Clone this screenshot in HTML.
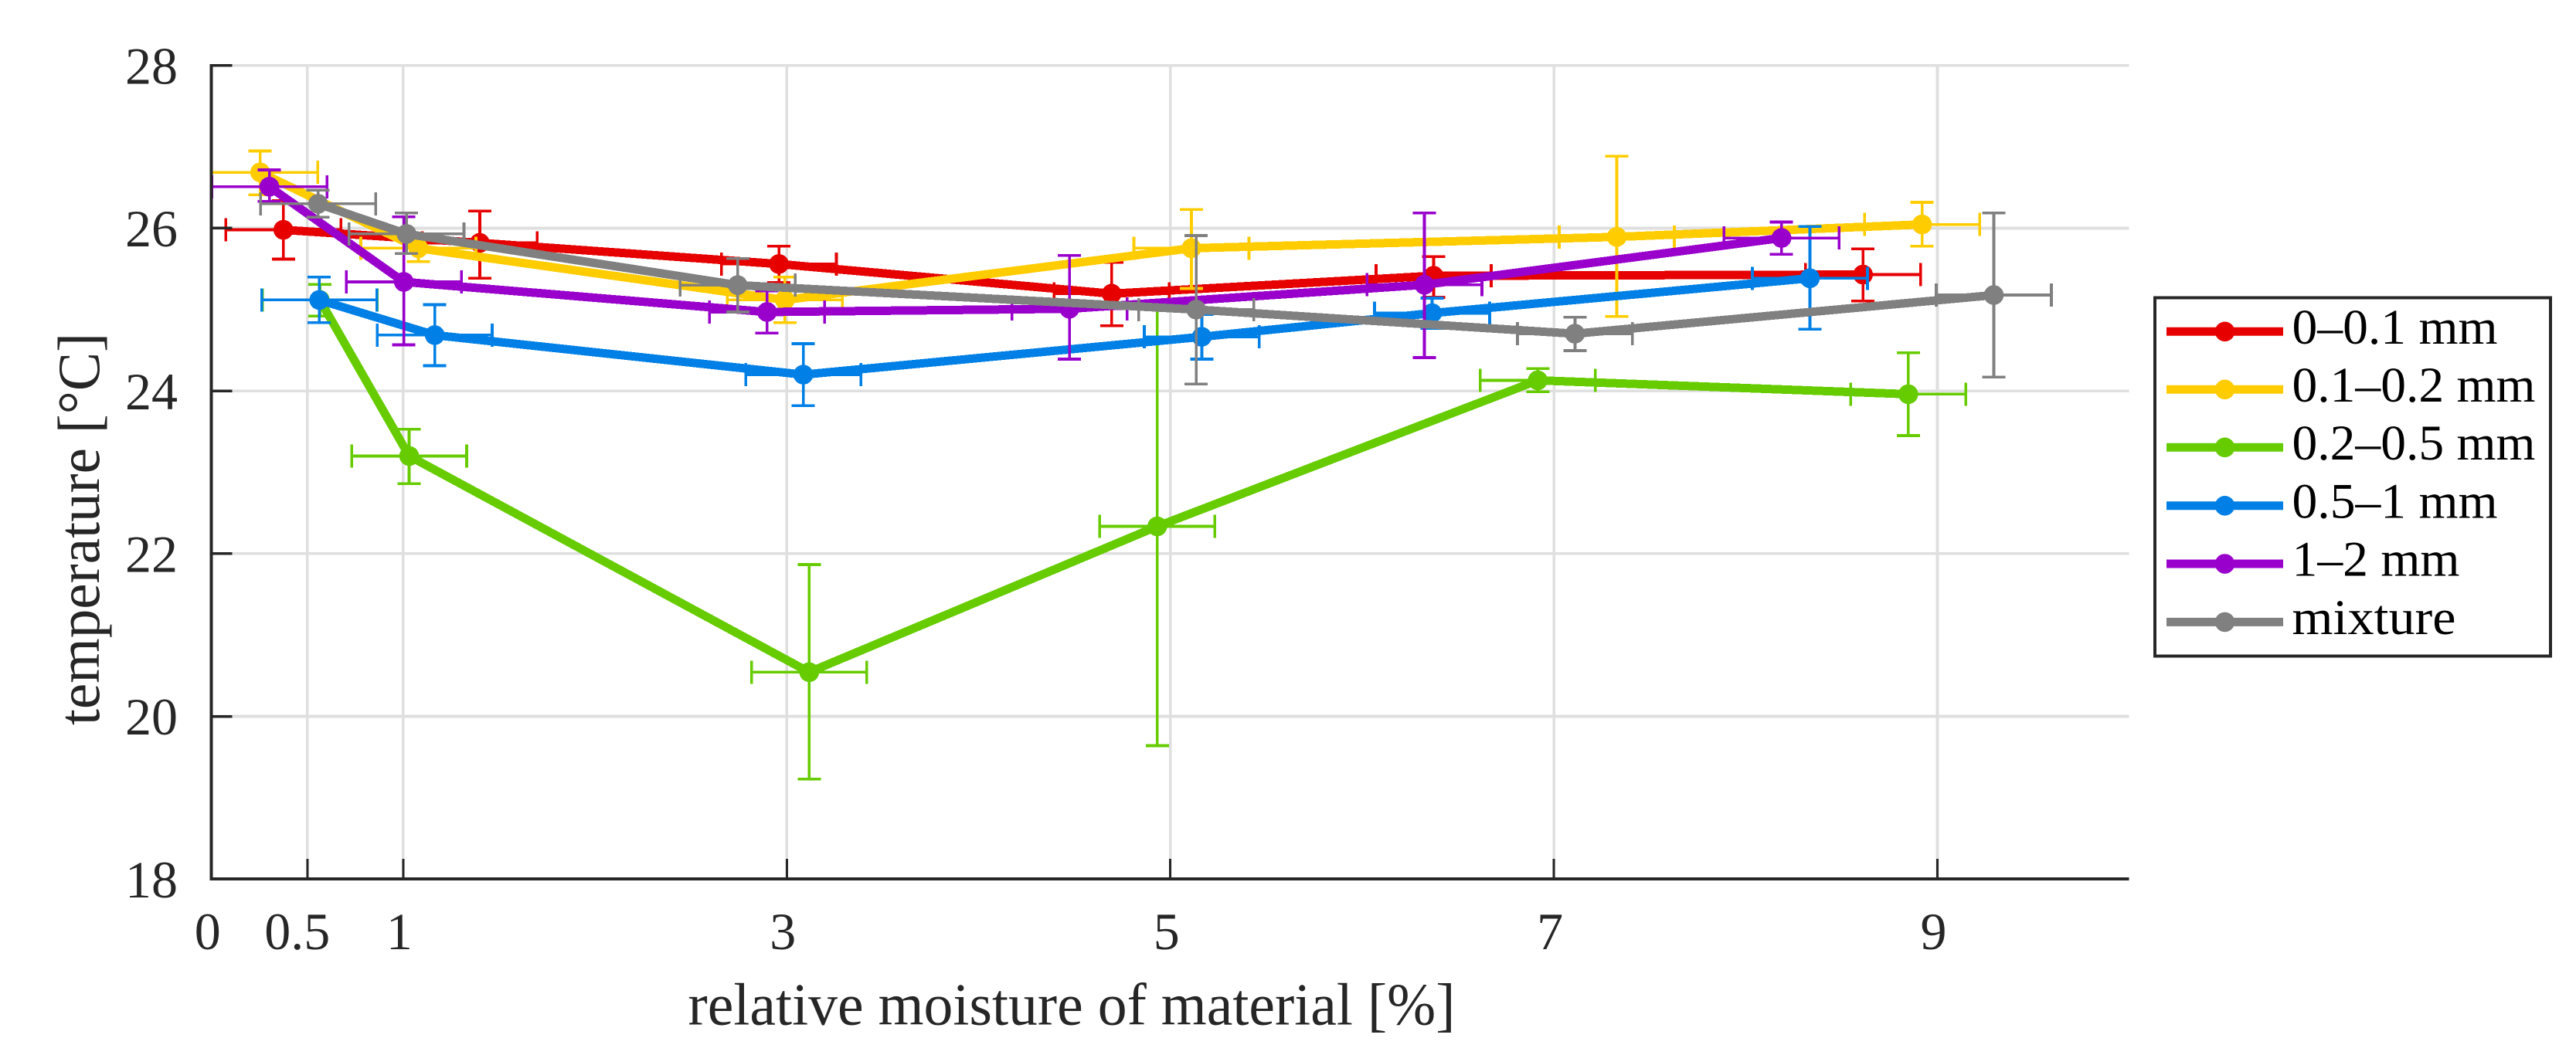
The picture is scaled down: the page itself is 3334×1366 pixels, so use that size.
<!DOCTYPE html>
<html lang="en">
<head>
<meta charset="utf-8">
<title>Temperature vs relative moisture of material</title>
<style>
  html, body { margin: 0; padding: 0; background: #ffffff; }
  svg { display: block; }
  text { font-family: "Liberation Serif", "DejaVu Serif", serif; }
</style>
</head>
<body>
<svg id="chart" xmlns="http://www.w3.org/2000/svg" width="3334" height="1366" viewBox="0 0 3334 1366">
  <rect x="0" y="0" width="3334" height="1366" fill="#ffffff"/>
  <defs>
    <clipPath id="plot-clip"><rect x="272" y="83" width="2485" height="1057"/></clipPath>
  </defs>
  <g id="grid" shape-rendering="crispEdges"></g>
  <g id="series" clip-path="url(#plot-clip)" shape-rendering="crispEdges"></g>
  <g id="axes" shape-rendering="crispEdges"></g>
  <text x="1387" y="1326.5" font-size="77" fill="#262626" text-anchor="middle" textLength="993" lengthAdjust="spacingAndGlyphs">relative moisture of material [%]</text>
  <text transform="translate(128 685) rotate(-90)" font-size="77" fill="#262626" text-anchor="middle" textLength="508" lengthAdjust="spacingAndGlyphs">temperature [°C]</text>
  <g id="legend"></g>
</svg>
<script>
// ---- axis ticks ----
const xTicks = [0, 0.5, 1, 3, 5, 7, 9];
const xTickLabels = ['0', '0.5', '1', '3', '5', '7', '9'];
const yTicks = [18, 20, 22, 24, 26, 28];
const yTickLabels = ['18', '20', '22', '24', '26', '28'];

// ---- series names ----
const seriesNames = ['0–0.1 mm', '0.1–0.2 mm', '0.2–0.5 mm', '0.5–1 mm', '1–2 mm', 'mixture'];

// ---- 0–0.1 mm ----
const moistureA = [0.375, 1.399, 2.959, 4.694, 6.373, 8.612];
const tempA     = [25.98, 25.82, 25.56, 25.195, 25.415, 25.43];
const tempHighA = [26.34, 26.21, 25.78, 25.58, 25.65, 25.745];
const tempLowA  = [25.62, 25.385, 25.33, 24.80, 25.15, 25.105];
const moistErrA = [0.30, 0.30, 0.30, 0.30, 0.30, 0.30];

// ---- 0.1–0.2 mm ----
const moistureB = [0.254, 1.079, 2.99, 5.11, 7.328, 8.92];
const tempB     = [26.686, 25.754, 25.118, 25.754, 25.893, 26.046];
const tempHighB = [26.95, 25.92, 25.40, 26.23, 26.886, 26.318];
const tempLowB  = [26.41, 25.59, 24.84, 25.26, 24.915, 25.78];
const moistErrB = [0.30, 0.30, 0.30, 0.30, 0.30, 0.30];

// ---- 0.2–0.5 mm ----
const moistureC = [0.565, 1.031, 3.117, 4.932, 6.916, 8.848];
const tempC     = [25.118, 23.2, 20.543, 22.335, 24.13, 23.96];
const tempHighC = [25.31, 23.53, 21.865, 25.03, 24.275, 24.47];
const tempLowC  = [24.92, 22.86, 19.23, 19.64, 23.99, 23.45];
const moistErrC = [0.30, 0.30, 0.30, 0.30, 0.30, 0.30];

// ---- 0.5–1 mm ----
const moistureD = [0.562, 1.164, 3.086, 5.164, 6.365, 8.335];
const tempD     = [25.118, 24.686, 24.2, 24.665, 24.956, 25.385];
const tempHighD = [25.40, 25.06, 24.58, 24.94, 25.14, 26.02];
const tempLowD  = [24.84, 24.31, 23.82, 24.39, 24.77, 24.76];
const moistErrD = [0.30, 0.30, 0.30, 0.30, 0.30, 0.30];

// ---- 1–2 mm ----
const moistureE = [0.302, 1.003, 2.897, 4.474, 6.325, 8.187];
const tempE     = [26.51, 25.34, 24.97, 25.01, 25.305, 25.88];
const tempHighE = [26.716, 26.14, 25.23, 25.665, 26.186, 26.075];
const tempLowE  = [26.33, 24.567, 24.71, 24.39, 24.41, 25.68];
const moistErrE = [0.30, 0.30, 0.30, 0.30, 0.30, 0.30];

// ---- mixture ----
const moistureF = [0.556, 1.017, 2.744, 5.135, 7.11, 9.294];
const tempF     = [26.30, 25.93, 25.30, 25.0, 24.703, 25.178];
const tempHighF = [26.466, 26.186, 25.627, 25.91, 24.906, 26.186];
const tempLowF  = [26.135, 25.69, 24.97, 24.084, 24.495, 24.17];
const moistErrF = [0.30, 0.30, 0.30, 0.30, 0.30, 0.30];

const seriesColors = ['#e60000', '#ffcc00', '#66cc00', '#0080e6', '#9900cc', '#808080'];

const seriesData = [
  [moistureA, tempA, tempHighA, tempLowA, moistErrA],
  [moistureB, tempB, tempHighB, tempLowB, moistErrB],
  [moistureC, tempC, tempHighC, tempLowC, moistErrC],
  [moistureD, tempD, tempHighD, tempLowD, moistErrD],
  [moistureE, tempE, tempHighE, tempLowE, moistErrE],
  [moistureF, tempF, tempHighF, tempLowF, moistErrF]
];

const SVG_NS = 'http://www.w3.org/2000/svg';
const plotLeft = 273.7, plotRight = 2755.7, plotTop = 84.8, plotBottom = 1138.2;
const xMin = 0, xMax = 10, yMin = 18, yMax = 28;
const axisColor = '#262626', gridColor = '#dfdfdf';

function xScale(v) { return plotLeft + (v - xMin) / (xMax - xMin) * (plotRight - plotLeft); }
function yScale(v) { return plotBottom - (v - yMin) / (yMax - yMin) * (plotBottom - plotTop); }

function svgEl(tag, parent, attrs) {
  const el = document.createElementNS(SVG_NS, tag);
  for (const k in attrs) el.setAttribute(k, attrs[k]);
  parent.appendChild(el);
  return el;
}
function seg(parent, x1, y1, x2, y2, color, width) {
  return svgEl('line', parent, { x1: x1, y1: y1, x2: x2, y2: y2, stroke: color, 'stroke-width': width });
}

const gridG = document.getElementById('grid');
const axesG = document.getElementById('axes');
const seriesG = document.getElementById('series');
const legendG = document.getElementById('legend');

// grid lines
yTicks.forEach(function (v) {
  if (v === yMin) return;
  const el = seg(gridG, plotLeft, yScale(v), plotRight, yScale(v), gridColor, 3.6);
  
  
});
xTicks.forEach(function (v) {
  if (v === xMin) return;
  const el = seg(gridG, xScale(v), plotTop, xScale(v), plotBottom, gridColor, 3.6);
  
  
});

// series
seriesData.forEach(function (s, i) {
  const color = seriesColors[i];
  const g = svgEl('g', seriesG, {});
  
  
  const xs = s[0], ys = s[1], highs = s[2], lows = s[3], xe = s[4];
  const capHalf = 15, errW = 3.7;
  xs.forEach(function (xv, j) {
    const cx = xScale(xv), cy = yScale(ys[j]);
    const yHi = yScale(highs[j]), yLo = yScale(lows[j]);
    const xL = xScale(xv - xe[j]), xR = xScale(xv + xe[j]);
    const eb = svgEl('g', g, {});
    
    
    seg(eb, cx, yHi, cx, yLo, color, errW);
    seg(eb, cx - capHalf, yHi, cx + capHalf, yHi, color, errW);
    seg(eb, cx - capHalf, yLo, cx + capHalf, yLo, color, errW);
    seg(eb, xL, cy, xR, cy, color, errW);
    seg(eb, xL, cy - capHalf, xL, cy + capHalf, color, errW);
    seg(eb, xR, cy - capHalf, xR, cy + capHalf, color, errW);
  });
  const pts = xs.map(function (xv, j) { return xScale(xv) + ',' + yScale(ys[j]); }).join(' ');
  const line = svgEl('polyline', g, { points: pts, fill: 'none', stroke: color, 'stroke-width': 11, 'stroke-linejoin': 'miter' });
  
  
  xs.forEach(function (xv, j) {
    const m = svgEl('circle', g, { cx: xScale(xv), cy: yScale(ys[j]), r: 12.8, fill: color });
    
    
  });
});

// axes
const yAxisLine = seg(axesG, plotLeft, plotTop - 2, plotLeft, plotBottom + 2, axisColor, 4);


const xAxisLine = seg(axesG, plotLeft - 2, plotBottom, plotRight, plotBottom, axisColor, 4);



yTicks.forEach(function (v, i) {
  const t = seg(axesG, plotLeft, yScale(v), plotLeft + 27, yScale(v), axisColor, 3.5);
  
  
  const lab = svgEl('text', axesG, { x: 230, y: yScale(v) + 23.7, 'font-size': 68, fill: axisColor, 'text-anchor': 'end' });
  lab.textContent = yTickLabels[i];
  
  
});
xTicks.forEach(function (v, i) {
  const t = seg(axesG, xScale(v), plotBottom, xScale(v), plotBottom - 26, axisColor, 3);
  
  
  const shift = xTickLabels[i] === '0.5' ? -13 : -5;
  const lab = svgEl('text', axesG, { x: xScale(v) + shift, y: 1229, 'font-size': 68, fill: axisColor, 'text-anchor': 'middle' });
  lab.textContent = xTickLabels[i];
  
  
});

// legend
const legendBox = svgEl('rect', legendG, { x: 2789, y: 385.5, width: 512, height: 464, fill: '#ffffff', stroke: axisColor, 'stroke-width': 4 });


const legendRowY = [429.3, 504.3, 579.3, 654.8, 730, 805.4];
const legendTextWidth = [266, 315, 315, 266, 217, 212];
seriesNames.forEach(function (name, i) {
  const y = legendRowY[i], color = seriesColors[i];
  const g = svgEl('g', legendG, {});
  
  
  const l = seg(g, 2804, y, 2955, y, color, 11);
  
  
  const c = svgEl('circle', g, { cx: 2879.5, cy: y, r: 12.8, fill: color });
  
  
  const t = svgEl('text', g, { x: 2966.5, y: y + 15.5, 'font-size': 65, fill: '#000000', textLength: legendTextWidth[i], lengthAdjust: 'spacingAndGlyphs' });
  t.textContent = name;
  
  
});
</script>
</body>
</html>
